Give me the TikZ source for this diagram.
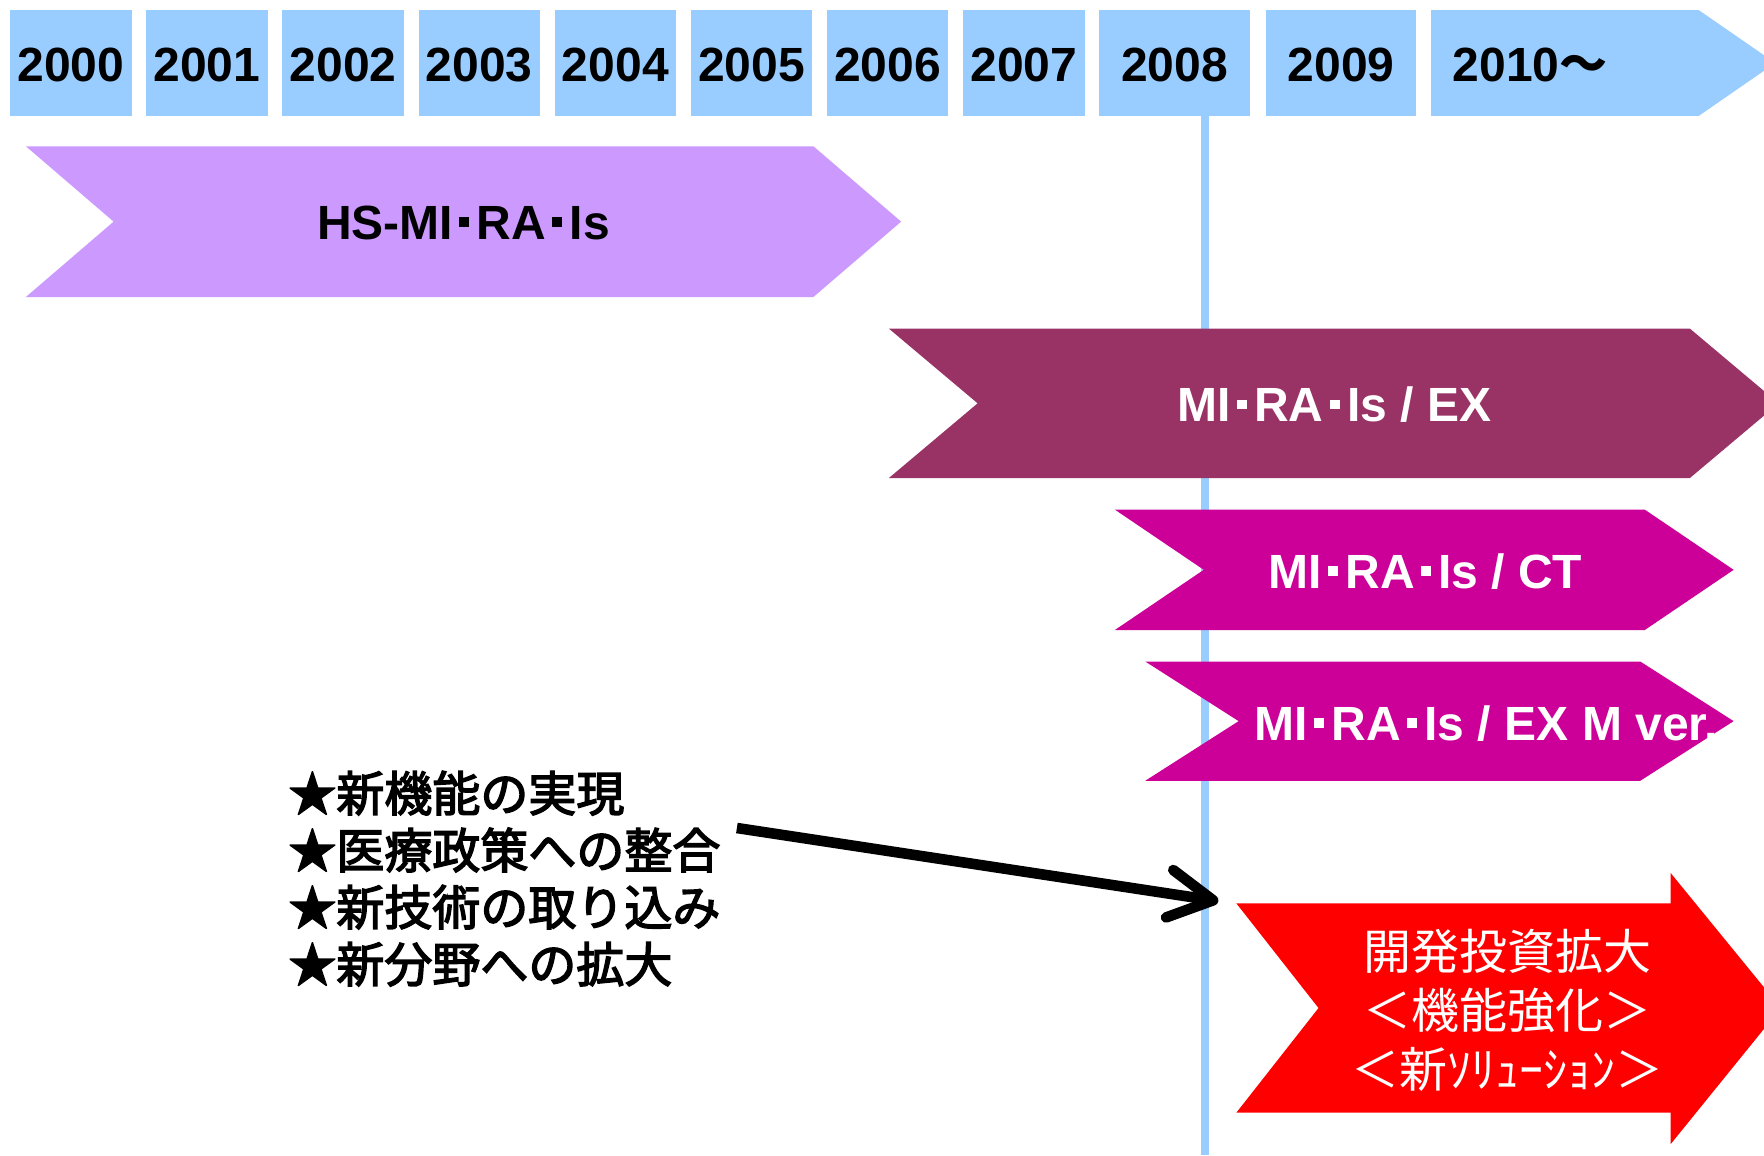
\documentclass[tikz,border=0pt]{standalone}
\usepackage{fontspec}
\setmainfont{Liberation Sans}
\newfontfamily\jp{Noto Sans CJK JP}
\newfontfamily\jpm{Noto Sans CJK JP}[FakeBold=3]
\usetikzlibrary{arrows.meta}
\definecolor{yearblue}{HTML}{99CCFF}
\definecolor{hspurple}{HTML}{CC99FF}
\definecolor{exmaroon}{HTML}{993366}
\definecolor{ctmagenta}{HTML}{CC0099}
\definecolor{bigred}{HTML}{FF0000}
\newcommand{\dt}{\hspace{3pt}\raisebox{6.3pt}{\rule{5pt}{4.8pt}}\hspace{3.8pt}}
\begin{document}
\begin{tikzpicture}[x=0.5625pt,y=-0.5625pt,
  yeartxt/.style={font=\fontsize{24}{28}\selectfont\bfseries, anchor=base, inner sep=0pt},
  bartxt/.style={font=\fontsize{24}{28}\selectfont\bfseries, anchor=base, inner sep=0pt},
  listtxt/.style={font=\fontsize{24}{28.5}\selectfont\jpm, align=left, anchor=west, inner sep=0pt},
  redtxt/.style={font=\fontsize{24}{29.3}\selectfont\jp, text=white, align=center, inner sep=0pt},
  bigarrow/.style={line width=5.3pt, -{Straight Barb[length=22pt, width=24pt, round]}}
]
\useasboundingbox (0,0) rectangle (1568,1027);
\clip (0,0) rectangle (1568,1027);
\fill[white] (0,0) rectangle (1568,1027);

% vertical 2008 line (behind everything)
\coordinate (vtop) at (1071,103);
\coordinate (vbot) at (1071,1027);
\draw[yearblue, line width=4.2pt] (vtop) -- (vbot);

% year boxes
\foreach \x/\yr in {9/2000,130/2001,251/2002,372/2003,493/2004,614/2005,735/2006,856/2007}{
  \fill[yearblue] (\x,9) rectangle ++(108,94);
  \node[yeartxt] (y\yr) at ({\x+54},72) {\yr};
}
\fill[yearblue] (977,9) rectangle (1111,103);
\node[yeartxt] (y2008) at (1044,72) {2008};
\fill[yearblue] (1125,9) rectangle (1259,103);
\node[yeartxt] (y2009) at (1192,72) {2009};
\fill[yearblue] (1272,9) -- (1510,9) -- (1578,56) -- (1510,103) -- (1272,103) -- cycle;
\node[yeartxt, anchor=base west] (y2010) at (1291,72) {2010{\jp ～}};

% HS-MI-RA-Is
\fill[hspurple] (23,130) -- (723,130) -- (801,197) -- (723,264) -- (23,264) -- (101,197) -- cycle;
\node[bartxt] (hs) at (412,213) {HS-MI\dt RA\dt Is};

% MI-RA-Is / EX
\fill[exmaroon] (790,292) -- (1502,292) -- (1581,358.5) -- (1502,425) -- (790,425) -- (869,358.5) -- cycle;
\node[bartxt, text=white] (ex) at (1186,375) {MI\dt RA\dt Is / EX};

% MI-RA-Is / CT
\fill[ctmagenta] (991,453) -- (1462,453) -- (1541,506.5) -- (1462,560) -- (991,560) -- (1070,506.5) -- cycle;
\node[bartxt, text=white] (ct) at (1267,523) {MI\dt RA\dt Is / CT};

% MI-RA-Is / EX M ver.
\fill[ctmagenta] (1018,588) -- (1458,588) -- (1541,641) -- (1458,694) -- (1018,694) -- (1101,641) -- cycle;
\node[bartxt, text=white, anchor=base west] (exm) at (1115,658) {MI\dt RA\dt Is / EX M ver.};

% red arrow
\fill[bigred] (1099,803) -- (1485,803) -- (1485,776) -- (1583,896) -- (1485,1017) -- (1485,989) -- (1099,989) -- (1172,896) -- cycle;
\node[redtxt] (red) at (1340,898) {開発投資拡大\\＜機能強化＞\\＜新ｿﾘｭｰｼｮﾝ＞};

% list
\node[listtxt] (list) at (256,781) {★新機能の実現\\★医療政策への整合\\★新技術の取り込み\\★新分野への拡大};

% arrow
\coordinate (arrS) at (655,736);
\coordinate (arrE) at (1083,801);
\draw[bigarrow] (arrS) -- (arrE);
\end{tikzpicture}
\end{document}
